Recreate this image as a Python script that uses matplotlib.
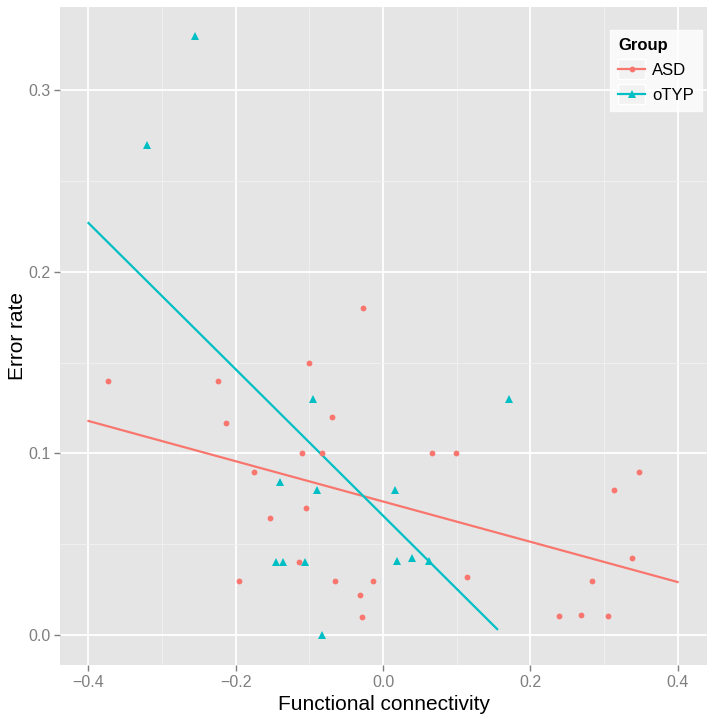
import matplotlib
matplotlib.use("Agg")
import matplotlib.pyplot as plt
import numpy as np
from matplotlib.lines import Line2D
from matplotlib.patches import Rectangle
from matplotlib.legend_handler import HandlerLine2D

plt.rcParams["font.family"] = ["Liberation Sans", "DejaVu Sans"]

# ---- data ----
asd_x = [-0.374, -0.2245, -0.027, -0.1007, -0.0698, -0.2136, -0.1098, -0.0834,
         -0.1746, -0.1048, -0.1533, -0.1143, -0.195, -0.0653, -0.014, -0.0313,
         -0.028, 0.067, 0.0989, 0.114, 0.347, 0.3139, 0.3388, 0.284, 0.2395,
         0.2694, 0.305]
asd_y = [0.140, 0.140, 0.180, 0.150, 0.120, 0.1166, 0.100, 0.100,
         0.090, 0.070, 0.0642, 0.040, 0.030, 0.030, 0.030, 0.0222,
         0.010, 0.100, 0.100, 0.0318, 0.090, 0.080, 0.0426, 0.030, 0.0103,
         0.0108, 0.0103]
typ_x = [-0.256, -0.321, -0.0952, -0.140, -0.090, -0.146, -0.136, -0.1057,
         -0.0834, 0.1714, 0.0159, 0.0195, 0.0395, 0.0621]
typ_y = [0.330, 0.270, 0.130, 0.084, 0.080, 0.040, 0.040, 0.040,
         0.000, 0.130, 0.080, 0.0407, 0.0424, 0.0407]

# fitted lines (intercept, slope, x range)
asd_fit = (0.0735, -0.1108, -0.4, 0.4)
typ_fit = (0.0657, -0.4027, -0.4, 0.155)

groups = ["ASD", "oTYP"]
colors = ["#F8766D", "#00BFC4"]

xticks = [-0.4, -0.2, 0.0, 0.2, 0.4]
yticks = [0.0, 0.1, 0.2, 0.3]

W, H = 714, 719
fig = plt.figure(figsize=(W / 100, H / 100), dpi=100)
ax = fig.add_axes([60 / W, 1 - 665 / H, (707 - 60) / W, (665 - 7) / H])
ax.set_facecolor("#E5E5E5")
for s in ax.spines.values():
    s.set_visible(False)

ax.set_xlim(-0.4387, 0.44)
ax.set_ylim(-0.0165, 0.3457)
ax.set_xticks(xticks)
ax.set_xticklabels(["\u22120.4", "\u22120.2", "0.0", "0.2", "0.4"])
ax.set_yticks(yticks)
ax.set_yticklabels(["0.0", "0.1", "0.2", "0.3"])
ax.set_xticks([-0.3, -0.1, 0.1, 0.3], minor=True)
ax.set_yticks([0.05, 0.15, 0.25], minor=True)
ax.grid(which="major", color="white", linewidth=1.3)
ax.grid(which="minor", color="#F2F2F2", linewidth=0.6)
ax.set_axisbelow(True)
ax.tick_params(which="major", length=4, width=1, color="#7F7F7F",
               labelcolor="#7F7F7F", labelsize=11.5, pad=3)
ax.tick_params(which="minor", length=0)

ax.set_xlabel("Functional connectivity", fontsize=15, labelpad=4)
ax.set_ylabel("Error rate", fontsize=15, labelpad=1)

ax.plot(asd_x, asd_y, "o", color=colors[0], markersize=4.2, markeredgewidth=0, zorder=3)
ax.plot(typ_x, typ_y, "^", color=colors[1], markersize=6, markeredgewidth=0, zorder=3)

for (b0, b1, x0, x1), c in zip([asd_fit, typ_fit], colors):
    xs = np.array([x0, x1])
    ax.plot(xs, b0 + b1 * xs, color=c, linewidth=1.6, zorder=2)


class KeyHandler(HandlerLine2D):
    def create_artists(self, legend, orig_handle, xdescent, ydescent,
                       width, height, fontsize, trans):
        bg = Rectangle((-xdescent, -ydescent - 3), width, height + 6,
                       facecolor="#F2F2F2", edgecolor="white", linewidth=1,
                       transform=trans)
        arts = super().create_artists(legend, orig_handle, xdescent, ydescent,
                                      width, height, fontsize, trans)
        return [bg] + arts


handles = [
    Line2D([], [], color=colors[0], marker="o", markersize=4.2, markeredgewidth=0, linewidth=1.6),
    Line2D([], [], color=colors[1], marker="^", markersize=6, markeredgewidth=0, linewidth=1.6),
]
leg = ax.legend(handles, groups, title="Group", loc="upper right",
                bbox_to_anchor=(1.005, 0.978), frameon=True, fancybox=False,
                fontsize=12, title_fontproperties={"weight": "bold", "size": 12},
                handlelength=1.6, handletextpad=0.4, borderpad=0.5,
                labelspacing=0.6, numpoints=1,
                handler_map={Line2D: KeyHandler(numpoints=1)})
leg.get_frame().set_facecolor("white")
leg.get_frame().set_edgecolor("white")
leg._legend_box.align = "left"

fig.savefig("out.png", dpi=100)
